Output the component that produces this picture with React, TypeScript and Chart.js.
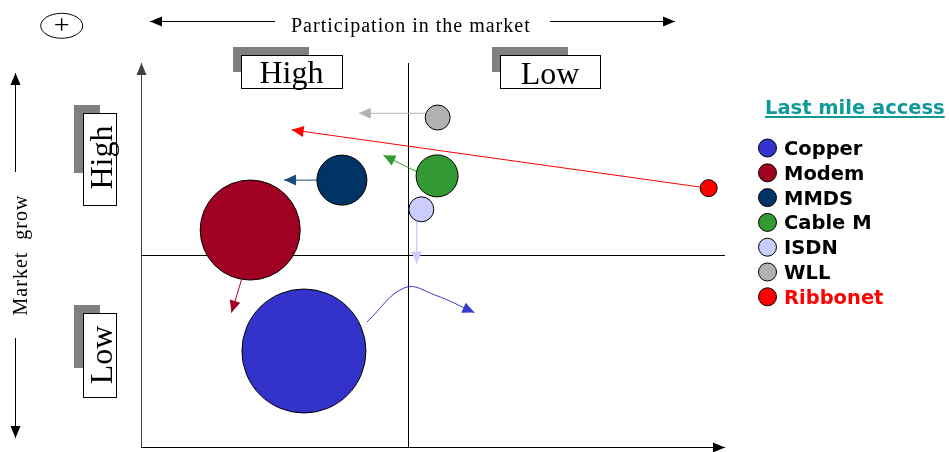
import React, { useEffect, useRef } from "react";
import { Chart, registerables } from "chart.js";

Chart.register(...registerables);

// Last-mile access technologies
const technologies = ["Copper", "Modem", "MMDS", "Cable M", "ISDN", "WLL", "Ribbonet"];
const fillColors = ["#3333cc", "#a00021", "#003366", "#339933", "#ccccff", "#b2b2b2", "#ff0000"];
const arrowColors = ["#3a3ad2", "#a00021", "#1f4a7a", "#339933", "#ccccff", "#b2b2b2", "#ff0000"];

// Position in the matrix (0..100 on both axes) and bubble radius
const participation = [27.9, 18.7, 34.4, 50.7, 48.0, 50.8, 97.2];
const growth = [25.0, 56.5, 69.5, 70.6, 61.9, 85.8, 67.4];
const bubbleRadius = [62, 50, 25, 21, 12.5, 12.5, 8.5];

// Trend paths; the last point of each path is the arrow tip
const trendX = [
  [38.7, 45.2, 50.3, 57.1],
  [17.2, 15.5],
  [30.1, 24.5],
  [47.2, 41.5],
  [47.2, 47.2],
  [48.6, 37.3],
  [95.7, 25.8],
];
const trendY = [
  [32.6, 41.5, 39.6, 35.0],
  [43.5, 35.0],
  [69.5, 69.5],
  [71.7, 76.0],
  [58.6, 47.8],
  [86.9, 86.9],
  [67.7, 82.6],
];

// Quadrant dividers
const splitX = 45.7;
const splitY = 50;

const xAxisTitle = "Participation in the market";
const yAxisTitle = "Market  grow";
const levelHigh = "High";
const levelLow = "Low";
const legendTitle = "Last mile access";

const SERIF = "'Liberation Serif', 'Times New Roman', serif";
const SANS = "'DejaVu Sans', Verdana, sans-serif";

function arrowHead(
  ctx: CanvasRenderingContext2D,
  tipX: number,
  tipY: number,
  fromX: number,
  fromY: number,
  len: number,
  half: number,
  color: string
) {
  const a = Math.atan2(tipY - fromY, tipX - fromX);
  ctx.save();
  ctx.translate(tipX, tipY);
  ctx.rotate(a);
  ctx.beginPath();
  ctx.moveTo(0, 0);
  ctx.lineTo(-len, -half);
  ctx.lineTo(-len, half);
  ctx.closePath();
  ctx.fillStyle = color;
  ctx.fill();
  ctx.restore();
}

function arrowLine(
  ctx: CanvasRenderingContext2D,
  x0: number,
  y0: number,
  x1: number,
  y1: number,
  color: string
) {
  ctx.save();
  ctx.strokeStyle = color;
  ctx.lineWidth = 1;
  ctx.beginPath();
  ctx.moveTo(x0, y0);
  ctx.lineTo(x1, y1);
  ctx.stroke();
  ctx.restore();
  arrowHead(ctx, x1, y1, x0, y0, 12, 5, color);
}

function labelBox(
  ctx: CanvasRenderingContext2D,
  shadow: [number, number, number, number],
  box: [number, number, number, number]
) {
  ctx.save();
  ctx.fillStyle = "#808080";
  ctx.fillRect(...shadow);
  ctx.fillStyle = "#ffffff";
  ctx.fillRect(...box);
  ctx.strokeStyle = "#000";
  ctx.lineWidth = 1;
  ctx.strokeRect(box[0] + 0.5, box[1] + 0.5, box[2], box[3]);
  ctx.restore();
}

function rotatedText(ctx: CanvasRenderingContext2D, text: string, x: number, y: number, font: string, spacing = "0px") {
  ctx.save();
  ctx.translate(x, y);
  ctx.rotate(-Math.PI / 2);
  ctx.font = font;
  (ctx as any).letterSpacing = spacing;
  ctx.textAlign = "center";
  ctx.textBaseline = "alphabetic";
  ctx.fillStyle = "#000";
  ctx.fillText(text, 0, 0);
  ctx.restore();
}

const matrixFrame = {
  id: "matrixFrame",
  beforeDatasetsDraw(chart: any) {
    const { ctx, chartArea, scales } = chart;
    const { left, right, top, bottom } = chartArea;
    const vx = Math.round(scales.x.getPixelForValue(splitX)) + 0.5;
    const hy = Math.round(scales.y.getPixelForValue(splitY)) + 0.5;

    ctx.save();
    // quadrant dividers
    ctx.strokeStyle = "#000";
    ctx.lineWidth = 1;
    ctx.beginPath();
    ctx.moveTo(vx, top);
    ctx.lineTo(vx, bottom);
    ctx.moveTo(left, hy);
    ctx.lineTo(right, hy);
    ctx.stroke();

    // axes with arrow tips
    arrowLine(ctx, left + 0.5, bottom, left + 0.5, top, "#404040");
    arrowLine(ctx, left, bottom + 0.5, right, bottom + 0.5, "#000");

    // participation header
    arrowLine(ctx, 275, 21.5, 150, 21.5, "#000");
    arrowLine(ctx, 550, 21.5, 675, 21.5, "#000");
    ctx.font = `20px ${SERIF}`;
    (ctx as any).letterSpacing = "1px";
    ctx.fillStyle = "#000";
    ctx.textAlign = "left";
    ctx.textBaseline = "alphabetic";
    ctx.fillText(xAxisTitle, 291, 31.5);
    (ctx as any).letterSpacing = "0px";

    // circled plus
    ctx.beginPath();
    ctx.ellipse(61.7, 25.8, 21, 12.5, 0, 0, Math.PI * 2);
    ctx.strokeStyle = "#000";
    ctx.stroke();
    ctx.font = `28px ${SERIF}`;
    ctx.textAlign = "center";
    ctx.textBaseline = "middle";
    ctx.fillText("+", 61.7, 26.5);

    // market growth side title
    arrowLine(ctx, 15.5, 172, 15.5, 73, "#000");
    arrowLine(ctx, 15.5, 338, 15.5, 438, "#000");
    rotatedText(ctx, yAxisTitle, 27, 255, `20px ${SERIF}`, "1px");

    // level boxes
    labelBox(ctx, [233, 47, 76, 25], [241, 55, 101, 33]);
    labelBox(ctx, [492, 47, 76, 25], [500, 55, 100, 33]);
    labelBox(ctx, [74, 105, 26, 68], [83, 113, 33, 92]);
    labelBox(ctx, [74, 305, 26, 63], [83, 313, 33, 84]);

    ctx.font = `32px ${SERIF}`;
    ctx.textAlign = "center";
    ctx.textBaseline = "alphabetic";
    ctx.fillStyle = "#000";
    ctx.fillText(levelHigh, 291.5, 83);
    ctx.fillText(levelLow, 550, 83.5);
    rotatedText(ctx, levelHigh, 111.5, 157.5, `32px ${SERIF}`);
    rotatedText(ctx, levelLow, 112, 355, `32px ${SERIF}`);
    ctx.restore();
  },
  afterDatasetsDraw(chart: any) {
    const { ctx } = chart;
    // arrow tips at the end of every trend path
    technologies.forEach((_, i) => {
      const meta = chart.getDatasetMeta(i);
      const pts = meta.data;
      const tip = pts[pts.length - 1];
      const prev = pts[pts.length - 2];
      const fx = tip.cp1x !== undefined && tip.cp1x !== tip.x ? tip.cp1x : prev.x;
      const fy = tip.cp1y !== undefined && tip.cp1x !== tip.x ? tip.cp1y : prev.y;
      arrowHead(ctx, tip.x, tip.y, fx, fy, 12, 5.5, arrowColors[i]);
    });
  },
  afterDraw(chart: any) {
    const { ctx } = chart;
    ctx.save();
    // legend title
    ctx.font = `bold 19.5px ${SANS}`;
    ctx.fillStyle = "#109999";
    ctx.textAlign = "left";
    ctx.textBaseline = "alphabetic";
    ctx.fillText(legendTitle, 765, 114);
    const w = ctx.measureText(legendTitle).width;
    ctx.fillRect(765, 116, w, 2);

    // legend entries
    ctx.font = `bold 19.5px ${SANS}`;
    technologies.forEach((name, i) => {
      const cy = 148 + i * 24.8;
      ctx.beginPath();
      ctx.arc(767.5, cy, 9, 0, Math.PI * 2);
      ctx.fillStyle = fillColors[i];
      ctx.fill();
      ctx.strokeStyle = "#000";
      ctx.lineWidth = 1;
      ctx.stroke();
      ctx.fillStyle = name === "Ribbonet" ? "#ff0000" : "#000";
      ctx.fillText(name, 784, cy + 7);
    });
    ctx.restore();
  },
};

export default function App() {
  const ref = useRef<HTMLCanvasElement>(null);

  useEffect(() => {
    document.body.style.margin = "0";
    const canvas = ref.current;
    if (!canvas) return;

    const trendSets = technologies.map((name, i) => ({
      type: "line" as const,
      label: `${name} trend`,
      data: trendX[i].map((x, j) => ({ x, y: trendY[i][j] })),
      borderColor: arrowColors[i],
      borderWidth: 1,
      pointRadius: 0,
      tension: trendX[i].length > 2 ? 0.4 : 0,
      fill: false,
      order: 2,
      clip: false as const,
    }));

    const bubbleSets = technologies.map((name, i) => ({
      type: "bubble" as const,
      label: name,
      data: [{ x: participation[i], y: growth[i], r: bubbleRadius[i] }],
      backgroundColor: fillColors[i],
      borderColor: "#000",
      borderWidth: 1,
      order: 1,
      clip: false as const,
    }));

    const chart = new Chart(canvas, {
      type: "bubble",
      data: { datasets: [...trendSets, ...bubbleSets] as any },
      options: {
        animation: false,
        responsive: true,
        maintainAspectRatio: false,
        events: [],
        layout: { autoPadding: false, padding: { left: 141, right: 224, top: 63, bottom: 5 } },
        scales: {
          x: { type: "linear", min: 0, max: 100, display: false },
          y: { type: "linear", min: 0, max: 100, display: false },
        },
        plugins: {
          legend: { display: false },
          tooltip: { enabled: false },
        },
      },
      plugins: [matrixFrame],
    });

    return () => chart.destroy();
  }, []);

  return (
    <div style={{ position: "relative", width: 949, height: 452, background: "#fff" }}>
      <canvas ref={ref} style={{ display: "block" }} />
    </div>
  );
}
